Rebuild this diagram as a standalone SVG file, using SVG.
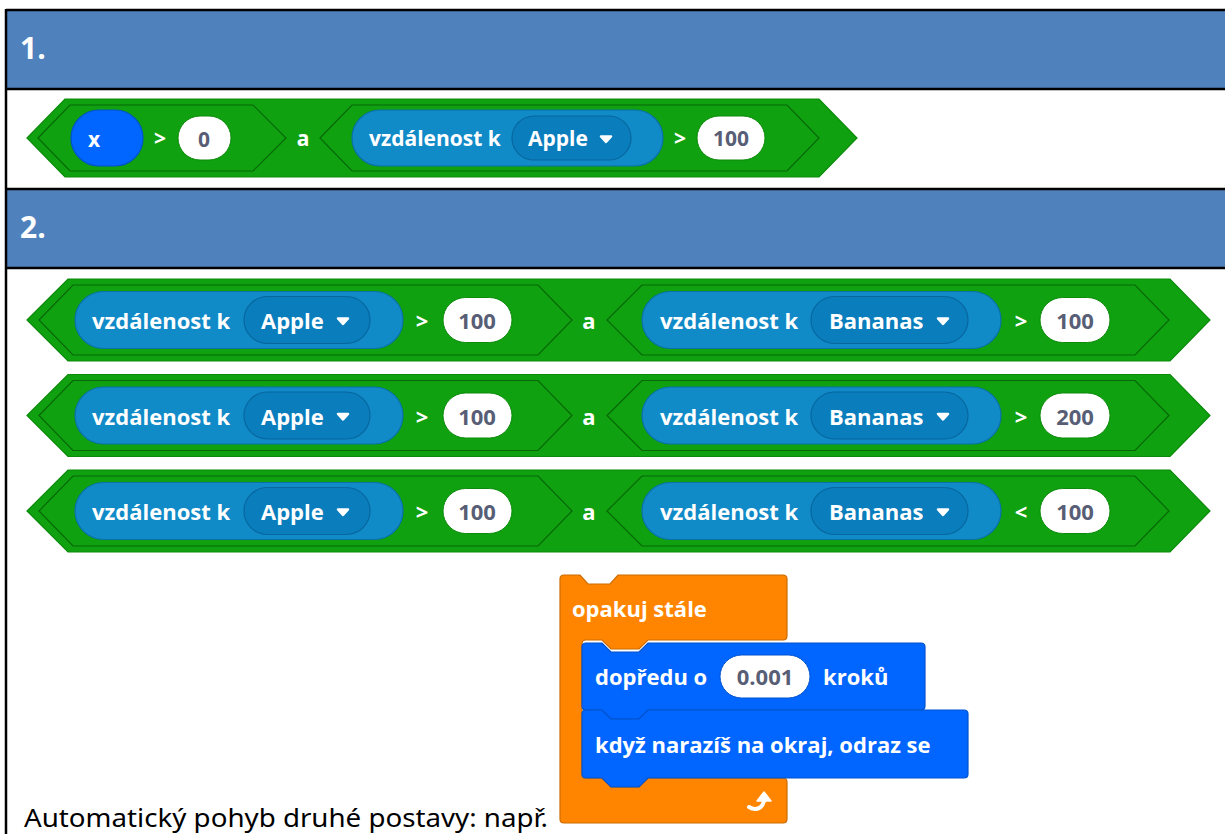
<svg xmlns="http://www.w3.org/2000/svg" width="1225" height="834" viewBox="0 0 1225 834">
<style>
.hdr{fill:#4f81bd}
.rule{stroke:#000;stroke-width:2.5;fill:none}
.hx{fill:#0fa10f;stroke:#0c8a0c;stroke-width:1.2}
.hxi{fill:#0fa10f;stroke:#086808;stroke-width:1.2}
.sens{fill:#118ac8;stroke:#0b70a8;stroke-width:1.2}
.dd{fill:#0a7dbd;stroke:#07679e;stroke-width:1.2}
.var{fill:#0066ff;stroke:#0052cc;stroke-width:1.2}
.num{fill:#fff;stroke:#0c8a0c;stroke-width:1}
.numb{fill:#fff;stroke:#0052cc;stroke-width:1}
.t{font-family:"Open Sans","Noto Sans",sans-serif;font-weight:700;fill:#fff;dominant-baseline:central}
.n{font-family:"Open Sans","Noto Sans",sans-serif;font-weight:700;fill:#575e75;dominant-baseline:central;text-anchor:middle}
.c{text-anchor:middle}
.tri{fill:#fff;stroke:#fff;stroke-width:2.5;stroke-linejoin:round}
.h{font-family:"Open Sans","Noto Sans",sans-serif;font-weight:700;fill:#fff;font-size:30px}
.ctl{fill:#ff8500;stroke:#cc6c00;stroke-width:1.2}
.mot{fill:#0066ff;stroke:#0052cc;stroke-width:1.2}
.r1{font-size:21px}
.r2{font-size:22px}
</style>
<defs>
<path id="tri" class="tri" d="M -5,-2.5 L 5,-2.5 L 0,3 Z"/>
</defs>

<g id="table">
<rect class="hdr" x="7" y="11" width="1218" height="77"/>
<rect class="hdr" x="7" y="190" width="1218" height="77"/>
<line class="rule" x1="6" y1="10" x2="1225" y2="10"/>
<line class="rule" x1="6" y1="89" x2="1225" y2="89"/>
<line class="rule" x1="6" y1="189" x2="1225" y2="189"/>
<line class="rule" x1="6" y1="268" x2="1225" y2="268"/>
<line class="rule" x1="6" y1="9" x2="6" y2="834"/>
<text class="h" x="20" y="59">1.</text>
<text class="h" x="20" y="238">2.</text>
</g>

<g id="expr1">
<polygon class="hx" points="27,138 65,99 819,99 857,138 819,177 65,177"/>
<polygon class="hxi" points="38,138 70,105 253,105 286,138 253,171 70,171"/>
<rect class="var" x="71" y="110" width="72" height="56" rx="28"/>
<text class="t c r1" x="94" y="139">x</text>
<text class="t c r1" x="160" y="138">&gt;</text>
<rect class="num" x="178" y="116" width="53" height="44" rx="22"/>
<text class="n r1" x="204" y="139">0</text>
<text class="t c r1" x="303" y="138">a</text>
<polygon class="hxi" points="320,138 352,105 787,105 819,138 787,171 352,171"/>
<rect class="sens" x="352" y="110" width="311" height="56" rx="28"/>
<text class="t r1" x="369" y="138">vzdálenost k</text>
<rect class="dd" x="512" y="116" width="119" height="44" rx="22"/>
<text class="t r1" x="528" y="138">Apple</text>
<use href="#tri" x="606" y="139"/>
<text class="t c r1" x="680" y="138">&gt;</text>
<rect class="num" x="697" y="116" width="68" height="44" rx="22"/>
<text class="n r1" x="731" y="138">100</text>
</g>

<g id="expr2a" transform="translate(0,320)">
<polygon class="hx" points="27,0 68,-41 1170,-41 1210,0 1170,41 68,41"/>
<polygon class="hxi" points="39,0 73,-35 538,-35 572,0 538,35 73,35"/>
<rect class="sens" x="75" y="-28.5" width="328" height="57" rx="28.5"/>
<text class="t r2" x="92" y="0">vzdálenost k</text>
<rect class="dd" x="244" y="-23.5" width="126" height="47" rx="23.5"/>
<text class="t r2" x="261" y="0">Apple</text>
<use href="#tri" x="343" y="1"/>
<text class="t c r2" x="422" y="0">&gt;</text>
<rect class="num" x="443" y="-22.5" width="69" height="45" rx="22.5"/>
<text class="n r2" x="477" y="0">100</text>
<text class="t c r2" x="589" y="0">a</text>
<polygon class="hxi" points="607,0 642,-35 1135,-35 1169,0 1135,35 642,35"/>
<rect class="sens" x="642" y="-28.5" width="359" height="57" rx="28.5"/>
<text class="t r2" x="660" y="0">vzdálenost k</text>
<rect class="dd" x="811" y="-23.5" width="157" height="47" rx="23.5"/>
<text class="t r2" x="829" y="0">Bananas</text>
<use href="#tri" x="943" y="1"/>
<text class="t c r2" x="1021" y="0">&gt;</text>
<rect class="num" x="1040" y="-22.5" width="70" height="45" rx="22.5"/>
<text class="n r2" x="1075" y="0">100</text>
</g>

<g id="expr2b" transform="translate(0,415.5)">
<polygon class="hx" points="27,0 68,-41 1170,-41 1210,0 1170,41 68,41"/>
<polygon class="hxi" points="39,0 73,-35 538,-35 572,0 538,35 73,35"/>
<rect class="sens" x="75" y="-28.5" width="328" height="57" rx="28.5"/>
<text class="t r2" x="92" y="0">vzdálenost k</text>
<rect class="dd" x="244" y="-23.5" width="126" height="47" rx="23.5"/>
<text class="t r2" x="261" y="0">Apple</text>
<use href="#tri" x="343" y="1"/>
<text class="t c r2" x="422" y="0">&gt;</text>
<rect class="num" x="443" y="-22.5" width="69" height="45" rx="22.5"/>
<text class="n r2" x="477" y="0">100</text>
<text class="t c r2" x="589" y="0">a</text>
<polygon class="hxi" points="607,0 642,-35 1135,-35 1169,0 1135,35 642,35"/>
<rect class="sens" x="642" y="-28.5" width="359" height="57" rx="28.5"/>
<text class="t r2" x="660" y="0">vzdálenost k</text>
<rect class="dd" x="811" y="-23.5" width="157" height="47" rx="23.5"/>
<text class="t r2" x="829" y="0">Bananas</text>
<use href="#tri" x="943" y="1"/>
<text class="t c r2" x="1021" y="0">&gt;</text>
<rect class="num" x="1040" y="-22.5" width="70" height="45" rx="22.5"/>
<text class="n r2" x="1075" y="0">200</text>
</g>

<g id="expr2c" transform="translate(0,511)">
<polygon class="hx" points="27,0 68,-41 1170,-41 1210,0 1170,41 68,41"/>
<polygon class="hxi" points="39,0 73,-35 538,-35 572,0 538,35 73,35"/>
<rect class="sens" x="75" y="-28.5" width="328" height="57" rx="28.5"/>
<text class="t r2" x="92" y="0">vzdálenost k</text>
<rect class="dd" x="244" y="-23.5" width="126" height="47" rx="23.5"/>
<text class="t r2" x="261" y="0">Apple</text>
<use href="#tri" x="343" y="1"/>
<text class="t c r2" x="422" y="0">&gt;</text>
<rect class="num" x="443" y="-22.5" width="69" height="45" rx="22.5"/>
<text class="n r2" x="477" y="0">100</text>
<text class="t c r2" x="589" y="0">a</text>
<polygon class="hxi" points="607,0 642,-35 1135,-35 1169,0 1135,35 642,35"/>
<rect class="sens" x="642" y="-28.5" width="359" height="57" rx="28.5"/>
<text class="t r2" x="660" y="0">vzdálenost k</text>
<rect class="dd" x="811" y="-23.5" width="157" height="47" rx="23.5"/>
<text class="t r2" x="829" y="0">Bananas</text>
<use href="#tri" x="943" y="1"/>
<text class="t c r2" x="1021" y="0">&lt;</text>
<rect class="num" x="1040" y="-22.5" width="70" height="45" rx="22.5"/>
<text class="n r2" x="1075" y="0">100</text>
</g>

<g id="forever">
<path class="ctl" d="M 560,579 Q 560,575 564,575 H 580 L 588,584 H 610 L 618,575 H 783 Q 787,575 787,579 V 636 Q 787,640 783,640 H 648 L 639,649 H 611 L 602,640 H 586 Q 582,640 582,644 V 774 Q 582,778 586,778 H 602 L 611,787 H 639 L 648,778 H 783 Q 787,778 787,782 V 819 Q 787,823 783,823 H 564 Q 560,823 560,819 Z"/>
<text class="t r2" x="572" y="608">opakuj stále</text>
<path d="M 749,807 C 755,811 762,809 764,801" fill="none" stroke="#fff" stroke-width="4" stroke-linecap="round"/>
<polygon points="764,792 771,801 757,801" fill="#fff" stroke="#fff" stroke-width="1.5" stroke-linejoin="round"/>
</g>

<g id="move">
<path class="mot" d="M 582,647 Q 582,643 586,643 H 602 L 611,652 H 639 L 648,643 H 921 Q 925,643 925,647 V 706 Q 925,710 921,710 H 648 L 639,719 H 611 L 602,710 H 586 Q 582,710 582,706 Z"/>
<text class="t r2" x="595" y="676">dopředu o</text>
<rect class="numb" x="720" y="655" width="90" height="43" rx="21.5"/>
<text class="n r2" x="765" y="676">0.001</text>
<text class="t r2" x="823" y="676">kroků</text>
</g>

<g id="bounce">
<path class="mot" d="M 582,714 Q 582,710 586,710 H 602 L 611,719 H 639 L 648,710 H 964 Q 968,710 968,714 V 774 Q 968,778 964,778 H 648 L 639,787 H 611 L 602,778 H 586 Q 582,778 582,774 Z"/>
<text class="t r2" x="595" y="744">když narazíš na okraj, odraz se</text>
</g>

<g id="caption">
<text x="24" y="827" font-family="'Noto Sans','Open Sans',sans-serif" font-size="26" fill="#000" textLength="524" lengthAdjust="spacingAndGlyphs">Automatický pohyb druhé postavy: např.</text>
</g>
</svg>
